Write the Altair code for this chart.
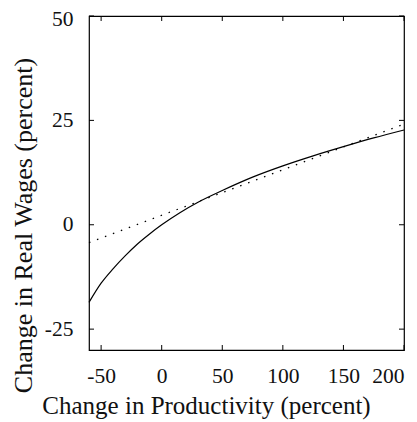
import altair as alt
import pandas as pd

# Solid curve
curve_x = [-60, -50, -40, -30, -20, -10, 0, 15, 30, 50, 75, 100, 125, 150, 175, 200]
curve_y = [-18.6, -14.0, -10.5, -7.4, -4.6, -2.2, 0.0, 2.9, 5.4, 8.2, 11.4, 14.1, 16.5, 18.7, 20.8, 22.7]

# Dotted line
dot_x = [-60, 200]
dot_y = [-4.3, 24.1]

x_ticks = [-50, 0, 50, 100, 150, 200]
y_ticks = [-25, 0, 25, 50]

W, H = 315, 334
FONT = "Liberation Serif"

curve = pd.DataFrame({"x": curve_x, "y": curve_y})
dotted = pd.DataFrame({"x": dot_x, "y": dot_y})
xt = pd.DataFrame({"x": x_ticks})
yt = pd.DataFrame({"y": y_ticks})

xscale = alt.Scale(domain=[-60, 200], nice=False, zero=False)
yscale = alt.Scale(domain=[-30, 50], nice=False, zero=False)

xaxis = alt.Axis(values=x_ticks, ticks=False, domain=False, grid=False,
                 labelExpr="datum.value + ''",
                 labelFont=FONT, labelFontSize=21.5, labelColor="#111",
                 labelPadding=15, title="Change in Productivity (percent)",
                 titleFont=FONT, titleFontSize=25, titleFontWeight="normal",
                 titleColor="#111", titlePadding=7, titleX=117)
yaxis = alt.Axis(values=y_ticks, ticks=False, domain=False, grid=False,
                 labelExpr="datum.value + ''",
                 labelOffset={"condition": {"test": "datum.value === 50", "value": 3.5}, "value": 0},
                 labelFont=FONT, labelFontSize=21.5, labelColor="#111",
                 labelPadding=16, title="Change in Real Wages (percent)",
                 titleFont=FONT, titleFontSize=26, titleFontWeight="normal",
                 titleColor="#111", titlePadding=8, titleY=209)

solid = alt.Chart(curve).mark_line(color="black", strokeWidth=1.2, interpolate="monotone").encode(
    x=alt.X("x:Q", scale=xscale, axis=xaxis),
    y=alt.Y("y:Q", scale=yscale, axis=yaxis),
)
dots = alt.Chart(dotted).mark_line(color="black", strokeWidth=1.3, strokeDash=[1.5, 7]).encode(
    x=alt.X("x:Q", scale=xscale),
    y=alt.Y("y:Q", scale=yscale),
)

tl = 5
bot = alt.Chart(xt).mark_rule(color="black", strokeWidth=1).encode(
    x=alt.X("x:Q", scale=xscale), y=alt.value(H), y2=alt.value(H - tl))
top = alt.Chart(xt).mark_rule(color="black", strokeWidth=1).encode(
    x=alt.X("x:Q", scale=xscale), y=alt.value(0), y2=alt.value(tl))
left = alt.Chart(yt).mark_rule(color="black", strokeWidth=1).encode(
    y=alt.Y("y:Q", scale=yscale), x=alt.value(0), x2=alt.value(tl))
right = alt.Chart(yt).mark_rule(color="black", strokeWidth=1).encode(
    y=alt.Y("y:Q", scale=yscale), x=alt.value(W - tl), x2=alt.value(W))

chart = alt.layer(solid, dots, bot, top, left, right).properties(
    width=W, height=H,
    autosize=alt.AutoSizeParams(type="none"),
    padding={"left": 81, "top": 8, "right": 5, "bottom": 70},
).configure_view(stroke="black", strokeWidth=1.2)

chart.save("out.html", embed_options={"renderer": "svg", "actions": False})
